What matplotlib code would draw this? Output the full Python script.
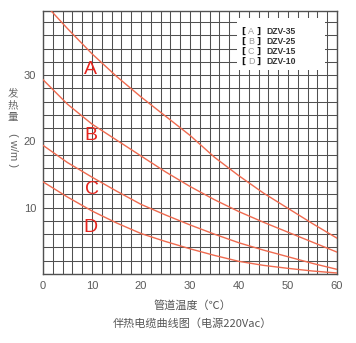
import numpy as np
import matplotlib
matplotlib.use("Agg")
import matplotlib.pyplot as plt
from matplotlib.patches import Rectangle

plt.rcParams['font.family'] = ['Liberation Sans', 'Noto Sans CJK SC', 'DejaVu Sans']

# Pipe temperature (°C)
temps = [0, 5, 10, 15, 20, 25, 30, 35, 40, 45, 50, 55, 60]
# Output power (W/m) per cable model
dzv35 = [41.0, 37.0, 33.2, 29.8, 26.7, 23.8, 20.9, 17.6, 14.8, 12.2, 9.9, 7.6, 5.4]
dzv25 = [29.3, 25.6, 22.6, 20.2, 17.8, 15.4, 13.2, 11.2, 9.4, 7.8, 6.3, 4.8, 3.3]
dzv15 = [19.4, 16.8, 14.6, 12.5, 10.5, 8.9, 7.4, 6.0, 4.7, 3.6, 2.6, 1.6, 0.7]
dzv10 = [13.9, 11.6, 9.5, 7.7, 6.1, 4.9, 3.8, 2.8, 1.9, 1.3, 0.85, 0.45, 0.15]

curve_letters = ['A', 'B', 'C', 'D']
curve_names = ['DZV-35', 'DZV-25', 'DZV-15', 'DZV-10']
letter_pos = [(9.7, 30.9), (9.7, 20.9), (9.9, 12.7), (9.7, 7.0)]

x_ticks = [0, 10, 20, 30, 40, 50, 60]
y_ticks = [10, 20, 30]

fig = plt.figure(figsize=(3.56, 3.43), dpi=100)
ax = fig.add_axes([0.1208, 0.2012, 0.8258, 0.7676])
ax.set_xlim(0, 60)
ax.set_ylim(0, 39.7)

grid_c = '#505050'
for gx in np.arange(0, 61, 2):
    ax.axvline(gx, color=grid_c, lw=0.75, zorder=1)
for gy in np.arange(0, 40, 2):
    ax.axhline(gy, color=grid_c, lw=0.75, zorder=1)

# white panel behind the model key
ax.add_patch(Rectangle((39.6, 30.7), 18.0, 7.9, facecolor='white',
                       edgecolor='none', zorder=2))

line_c = '#ef6a4f'
for series in (dzv35, dzv25, dzv15, dzv10):
    ax.plot(temps, series, color=line_c, lw=1.0, zorder=3, clip_on=True)

for letter, (lx, ly) in zip(curve_letters, letter_pos):
    ax.text(lx, ly, letter, color='#e5251f', fontsize=14, ha='center',
            va='center', zorder=4)

# model key
key_y = [36.6, 35.1, 33.6, 32.1]
for letter, name, ky in zip(curve_letters, curve_names, key_y):
    ax.text(40.9, ky, '[', color='#111111', fontsize=6.5, ha='center',
            va='center', fontweight='bold', family=['DejaVu Sans'], zorder=4)
    ax.text(42.5, ky, letter, color='#9a9a9a', fontsize=6.5, ha='center',
            va='center', zorder=4)
    ax.text(44.0, ky, ']', color='#111111', fontsize=6.5, ha='center',
            va='center', fontweight='bold', family=['DejaVu Sans'], zorder=4)
    ax.text(45.6, ky, name, color='#333333', fontsize=6.2, ha='left',
            va='center', fontweight='bold', zorder=4)

ax.set_xticks(x_ticks)
ax.set_yticks(y_ticks)
ax.tick_params(length=0, pad=5, labelsize=8, colors='#5a5a5a')
for s in ax.spines.values():
    s.set_color(grid_c)
    s.set_linewidth(1.0)

# y-axis title, written vertically
for i, ch in enumerate(['发', '热', '量']):
    fig.text(13 / 356, 1 - (93 + i * 12) / 343, ch, fontsize=7.5, color='#666666',
             ha='center', va='center', family=['Noto Sans CJK SC'])
fig.text(13 / 356, 1 - 150 / 343, '( w/m )', fontsize=8, color='#666666',
         ha='center', va='center', rotation=-90, rotation_mode='anchor')

fig.text(192 / 356, 1 - 305 / 343, '管道温度（℃）', fontsize=8, color='#555555',
         ha='center', va='center', family=['Noto Sans CJK SC', 'DejaVu Sans'])
fig.text(192 / 356, 1 - 323 / 343, '伴热电缆曲线图（电源220Vac）', fontsize=8,
         color='#555555', ha='center', va='center',
         family=['Noto Sans CJK SC', 'DejaVu Sans'])

fig.savefig('out.png', dpi=100, facecolor='white')
